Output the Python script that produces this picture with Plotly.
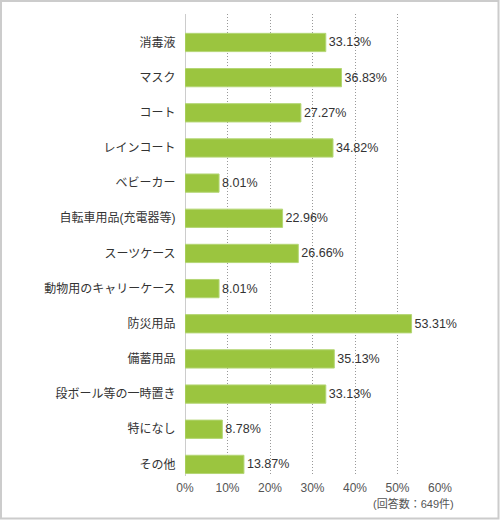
import plotly.graph_objects as go

# categories and values
items = ['消毒液', 'マスク', 'コート', 'レインコート', 'ベビーカー', '自転車用品(充電器等)',
         'スーツケース', '動物用のキャリーケース', '防災用品', '備蓄用品',
         '段ボール等の一時置き', '特になし', 'その他']
shares = [33.13, 36.83, 27.27, 34.82, 8.01, 22.96, 26.66, 8.01, 53.31, 35.13,
          33.13, 8.78, 13.87]
tick_vals = [0, 10, 20, 30, 40, 50, 60]
tick_text = ['0%', '10%', '20%', '30%', '40%', '50%', '60%']
note = '(回答数：649件)'

font_jp = 'Liberation Sans, Noto Sans CJK JP, sans-serif'

fig = go.Figure()
fig.add_trace(go.Bar(
    x=shares, y=list(range(len(items))), orientation='h',
    marker=dict(color='#9bc53f', line=dict(color='#b4d675', width=1)),
    width=0.52,
    text=[f'{v:.2f}%' for v in shares], textposition='outside',
    textfont=dict(family=font_jp, size=12.5, color='#333333'),
    cliponaxis=False, hoverinfo='skip',
))

fig.update_layout(
    width=500, height=520,
    margin=dict(l=185, r=60, t=14, b=44),
    paper_bgcolor='white', plot_bgcolor='white',
    showlegend=False,
    font=dict(family=font_jp, size=12, color='#333333'),
    xaxis=dict(
        range=[0, 60], tickvals=tick_vals, ticktext=tick_text,
        showgrid=True, gridcolor='#999999', griddash='1px,2px', gridwidth=1,
        zeroline=True, zerolinecolor='#cccccc', zerolinewidth=1,
        ticks='outside', ticklen=1, tickcolor='rgba(0,0,0,0)',
        tickfont=dict(family=font_jp, size=12, color='#555555'),
        fixedrange=True,
    ),
    yaxis=dict(
        range=[12.33, -0.81], tickvals=list(range(len(items))), ticktext=items,
        showgrid=False, zeroline=False,
        ticks='outside', ticklen=6, tickcolor='rgba(0,0,0,0)',
        tickfont=dict(family=font_jp, size=12, color='#333333'),
        fixedrange=True,
    ),
    annotations=[dict(
        text=note, xref='paper', yref='paper', x=1.062, y=-0.06,
        xanchor='right', yanchor='middle', showarrow=False,
        font=dict(family=font_jp, size=11, color='#555555'),
    )],
    shapes=[dict(
        type='rect', xref='paper', yref='paper',
        x0=-0.7216, x1=1.2294, y0=-0.092, y1=1.0281,
        line=dict(color='#cccccc', width=2), fillcolor='rgba(0,0,0,0)',
    )],
)

fig.write_html('out.html', config={'displayModeBar': False},
               post_script="document.body.style.margin='0';")
